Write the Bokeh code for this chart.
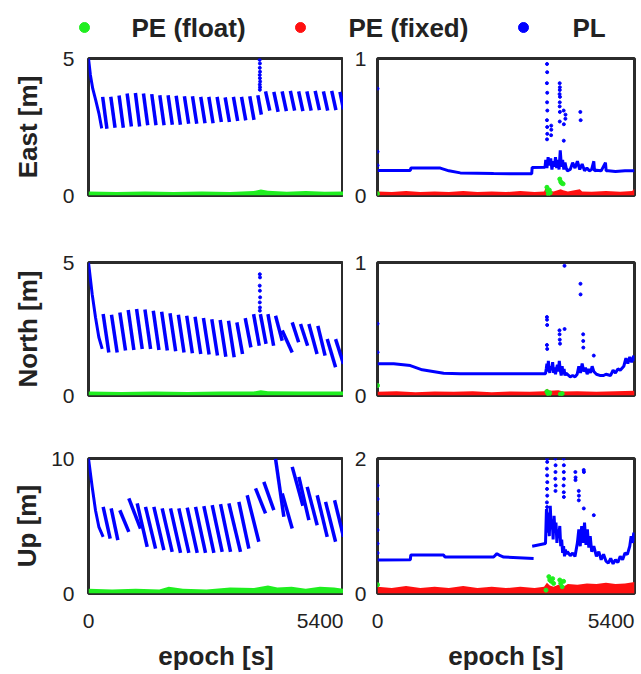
from bokeh.plotting import figure
from bokeh.models import Range1d, FixedTicker
from bokeh.layouts import column, row
from bokeh.embed import file_html
from bokeh.resources import INLINE
from bokeh.core.properties import value

# ---------------- data ----------------
X_MAX = 5400
x_ticks = [0, 5400]
x_tick_labels = ["0", "5400"]
x_title = "epoch [s]"
legend_labels = ["PE (float)", "PE (fixed)", "PL"]
row_titles = ["East [m]", "North [m]", "Up [m]"]
left_ymax = [5, 5, 10]
right_ymax = [1, 1, 2]

# East, float solution (left)
east_l_init_t = [0, 40, 90, 150, 220, 280]
east_l_init_v = [5.0, 4.4, 3.9, 3.5, 3.0, 2.45]
east_l_t0 = [300, 472, 647, 818, 993, 1164, 1339, 1510, 1685, 1856, 2031, 2202, 2377, 2548, 2723,
             2894, 3069, 3240, 3415, 3586, 3749, 3925, 4100, 4275, 4450, 4625, 4800, 4975, 5150, 5325]
east_l_v0 = [3.60, 3.60, 3.65, 3.72, 3.74, 3.72, 3.70, 3.66, 3.66, 3.64, 3.62, 3.62, 3.60, 3.60, 3.60,
             3.58, 3.60, 3.60, 3.62, 3.66, 3.80, 3.78, 3.80, 3.82, 3.80, 3.80, 3.82, 3.80, 3.82, 3.78]
east_l_t1 = [390, 562, 737, 908, 1083, 1254, 1429, 1600, 1775, 1946, 2121, 2292, 2467, 2638, 2813,
             2984, 3159, 3330, 3505, 3660, 3839, 4015, 4190, 4365, 4540, 4715, 4890, 5065, 5240, 5400]
east_l_v1 = [2.44, 2.47, 2.47, 2.52, 2.52, 2.56, 2.56, 2.56, 2.58, 2.58, 2.62, 2.62, 2.64, 2.64, 2.68,
             2.68, 2.72, 2.74, 2.76, 2.95, 3.10, 3.05, 3.08, 3.10, 3.08, 3.10, 3.12, 3.10, 3.12, 3.14]
east_l_spike_t = [3624, 3630, 3627, 3632, 3626, 3630, 3634, 3628, 3632, 3629]
east_l_spike_v = [4.95, 4.82, 4.66, 4.52, 4.40, 4.28, 4.16, 4.05, 3.95, 3.86]
east_l_float_t = [0, 600, 1200, 1800, 2400, 3000, 3500, 3650, 3800, 4200, 4600, 5000, 5400]
east_l_float_v = [0.15, 0.13, 0.15, 0.13, 0.15, 0.13, 0.16, 0.22, 0.17, 0.14, 0.16, 0.14, 0.15]

# East, fixed solution (right)
east_r_pl_t = [0, 690, 700, 1320, 1500, 1740, 2440, 3240, 3250, 3520,
               3535, 3560, 3585, 3610, 3640, 3665, 3690, 3715, 3740, 3765,
               3790, 3815, 3840, 3865, 3890, 3915, 3940, 3965, 3990, 4050,
               4100, 4150, 4200, 4250, 4300, 4350, 4400, 4450, 4500, 4545,
               4560, 4600, 4700, 4790, 4805, 4850, 5000, 5200, 5400]
east_r_pl_v = [0.183, 0.183, 0.200, 0.200, 0.180, 0.165, 0.160, 0.158, 0.205, 0.207,
               0.260, 0.200, 0.280, 0.220, 0.270, 0.190, 0.250, 0.210, 0.280, 0.200,
               0.260, 0.190, 0.330, 0.210, 0.260, 0.190, 0.240, 0.200, 0.180, 0.190,
               0.240, 0.200, 0.250, 0.190, 0.230, 0.180, 0.200, 0.180, 0.190, 0.250,
               0.180, 0.185, 0.180, 0.240, 0.180, 0.180, 0.175, 0.180, 0.180]
east_r_out_t = [0, 0, 0, 3562, 3565, 3560, 3566, 3563, 3568, 3561, 3565, 3567, 3562, 3650, 3652, 3648,
                3828, 3832, 3830, 3826, 3834, 3830, 3828, 3832, 3830, 3912, 3916, 3914, 3950, 3948, 4262, 4268]
east_r_out_v = [0.78, 0.32, 0.22, 0.96, 0.90, 0.82, 0.75, 0.68, 0.62, 0.55, 0.50, 0.45, 0.41, 0.51, 0.48, 0.44,
                0.82, 0.79, 0.77, 0.74, 0.72, 0.68, 0.65, 0.61, 0.54, 0.62, 0.52, 0.40, 0.59, 0.56, 0.61, 0.55]
east_r_fixed_t = [0, 300, 600, 900, 1200, 1500, 1800, 2100, 2400, 2700, 3000, 3300, 3500, 3560, 3600,
                  3700, 3850, 3900, 4000, 4250, 4300, 4500, 4800, 5100, 5350, 5400]
east_r_fixed_v = [0.030, 0.025, 0.032, 0.026, 0.030, 0.025, 0.032, 0.026, 0.030, 0.025, 0.032, 0.026, 0.030,
                  0.075, 0.035, 0.030, 0.045, 0.038, 0.030, 0.045, 0.030, 0.028, 0.032, 0.028, 0.032, 0.050]
east_r_float_t = [0, 3560, 3575, 3590, 3610, 3630, 3830, 3850, 3870, 3900]
east_r_float_v = [0.013, 0.060, 0.035, 0.010, 0.040, 0.020, 0.120, 0.100, 0.090, 0.085]

# North, float solution (left)
north_l_init_t = [0, 78, 148, 219, 290]
north_l_init_v = [5.0, 3.81, 2.94, 2.19, 1.75]
north_l_t0 = [310, 487, 664, 841, 1018, 1195, 1372, 1549, 1726, 1903, 2080, 2257, 2434, 2611, 2788,
              2965, 3142, 3319, 3496, 3640, 3800, 3961, 4102, 4314, 4490, 4667, 4857, 5055, 5232]
north_l_v0 = [3.06, 3.04, 3.12, 3.21, 3.25, 3.23, 3.19, 3.15, 3.09, 3.04, 3.00, 2.96, 2.91, 2.87, 2.84,
              2.81, 2.75, 2.91, 3.06, 3.06, 3.06, 3.00, 2.44, 2.75, 2.69, 2.69, 2.62, 2.12, 2.12]
north_l_t1 = [430, 607, 784, 961, 1138, 1315, 1492, 1669, 1846, 2023, 2200, 2377, 2554, 2731, 2908,
              3085, 3262, 3439, 3616, 3760, 3920, 4102, 4314, 4450, 4640, 4840, 5010, 5232, 5400]
north_l_v1 = [1.62, 1.62, 1.69, 1.71, 1.75, 1.75, 1.71, 1.69, 1.66, 1.62, 1.59, 1.56, 1.54, 1.50, 1.46,
              1.44, 1.56, 1.81, 1.87, 1.94, 1.87, 2.06, 1.62, 2.00, 1.87, 1.56, 1.50, 1.06, 1.19]
north_l_spike_t = [3628, 3632, 3626, 3630, 3634, 3628, 3631, 3629]
north_l_spike_v = [4.56, 4.44, 4.13, 3.94, 3.69, 3.50, 3.31, 3.19]
north_l_float_t = [0, 700, 1400, 2100, 2800, 3500, 3650, 3800, 4500, 5400]
north_l_float_v = [0.15, 0.13, 0.15, 0.13, 0.15, 0.15, 0.20, 0.16, 0.15, 0.15]

# North, fixed solution (right)
north_r_pl_t = [0, 340, 690, 940, 1390, 1740, 3530, 3545, 3560, 3575,
                3590, 3605, 3620, 3640, 3660, 3680, 3700, 3720, 3740, 3760,
                3780, 3800, 3820, 3840, 3860, 3880, 3900, 3920, 3940, 3960,
                3985, 4050, 4100, 4150, 4195, 4230, 4265, 4300, 4335, 4370,
                4405, 4440, 4475, 4510, 4545, 4600, 4685, 4750, 4800, 4895,
                4950, 5000, 5050, 5100, 5175, 5220, 5260, 5300, 5340, 5385, 5400]
north_r_pl_v = [0.238, 0.238, 0.225, 0.193, 0.168, 0.163, 0.163, 0.200, 0.240, 0.180,
                0.260, 0.200, 0.170, 0.220, 0.190, 0.250, 0.170, 0.210, 0.160, 0.200,
                0.230, 0.180, 0.260, 0.190, 0.150, 0.220, 0.160, 0.200, 0.150, 0.170,
                0.160, 0.140, 0.150, 0.140, 0.160, 0.220, 0.170, 0.240, 0.180, 0.210,
                0.160, 0.200, 0.170, 0.220, 0.180, 0.160, 0.150, 0.150, 0.160, 0.150,
                0.190, 0.170, 0.200, 0.190, 0.220, 0.280, 0.240, 0.290, 0.250, 0.300, 0.260]
north_r_out_t = [0, 0, 3560, 3562, 3565, 3560, 3566, 3824, 3826, 3830, 3835, 3929, 3931,
                 4265, 4267, 4321, 4323, 4325, 4545]
north_r_out_v = [0.54, 0.325, 0.59, 0.57, 0.53, 0.38, 0.35, 0.49, 0.46, 0.42, 0.39, 0.975, 0.50,
                 0.84, 0.76, 0.46, 0.41, 0.36, 0.30]
north_r_fixed_t = [0, 400, 800, 1200, 1600, 2000, 2400, 2800, 3200, 3500, 3565, 3620, 3800, 3900,
                   4200, 4600, 5000, 5400]
north_r_fixed_v = [0.028, 0.032, 0.025, 0.030, 0.028, 0.032, 0.025, 0.030, 0.028, 0.032, 0.050, 0.035,
                   0.040, 0.030, 0.032, 0.028, 0.032, 0.035]
north_r_float_t = [0, 3560, 3580, 3600, 3620, 3840, 3860, 3880]
north_r_float_v = [0.075, 0.030, 0.015, 0.005, 0.020, 0.010, 0.005, 0.015]

# Up, float solution (left)
up_l_init_t = [0, 78, 148, 219, 310]
up_l_init_v = [10.0, 7.9, 6.17, 4.94, 4.2]
up_l_t0 = [310, 480, 663, 854, 1031, 1207, 1384, 1560, 1737, 1913, 2090, 2267, 2443, 2620, 2796,
           2973, 3184, 3360, 3537, 3713, 3961, 4102, 4314, 4455, 4631, 4843, 5020, 5211]
up_l_v0 = [6.42, 6.30, 6.17, 7.04, 6.67, 6.42, 6.42, 6.30, 6.30, 6.30, 6.37, 6.42, 6.47, 6.54, 6.62,
           6.67, 6.79, 7.28, 7.78, 8.27, 9.99, 7.41, 9.38, 8.64, 7.90, 7.28, 6.79, 6.91]
up_l_t1 = [459, 621, 854, 1101, 1243, 1420, 1596, 1772, 1949, 2125, 2302, 2478, 2655, 2831, 3008,
           3219, 3396, 3607, 3749, 3925, 4137, 4314, 4540, 4667, 4843, 5055, 5232, 5400]
up_l_v1 = [4.07, 3.95, 4.57, 4.81, 3.46, 3.33, 3.21, 3.09, 3.01, 3.01, 3.01, 3.01, 3.01, 3.09, 3.09,
           3.09, 3.33, 3.83, 5.93, 6.17, 5.68, 4.81, 6.50, 5.43, 5.06, 4.20, 3.83, 4.20]
up_l_float_t = [0, 500, 1000, 1500, 1700, 2000, 2500, 3000, 3500, 3800, 4000, 4300, 4600, 4900, 5200, 5400]
up_l_float_v = [0.35, 0.30, 0.35, 0.30, 0.50, 0.35, 0.30, 0.45, 0.40, 0.60, 0.45, 0.50, 0.35, 0.50, 0.45, 0.35]

# Up, fixed solution (right)
up_r_pl_a_t = [0, 40, 690, 700, 1390, 1420, 2440, 2510, 2580, 2650, 3280]
up_r_pl_a_v = [0.50, 0.497, 0.50, 0.57, 0.57, 0.54, 0.54, 0.59, 0.56, 0.54, 0.52]
up_r_pl_b_t = [3250, 3530, 3550, 3570, 3590, 3610, 3630, 3650, 3670, 3690, 3710, 3730, 3750, 3770,
               3790, 3810, 3830, 3850, 3870, 3890, 3910, 3930, 3950, 3970, 3990,
               4050, 4100, 4150, 4200, 4230, 4260, 4290, 4320, 4350, 4380, 4410, 4440, 4470, 4500, 4545,
               4600, 4650, 4700, 4750, 4800, 4850, 4900, 4950, 5000, 5050, 5100, 5150, 5200, 5250,
               5300, 5330, 5360, 5385, 5400]
up_r_pl_b_v = [0.70, 0.74, 1.25, 0.90, 1.20, 0.85, 1.30, 0.95, 1.10, 0.80, 1.15, 0.90, 1.05, 0.75,
               0.95, 0.85, 1.00, 0.70, 0.80, 0.60, 0.70, 0.55, 0.65, 0.58, 0.62,
               0.56, 0.60, 0.55, 0.75, 0.95, 0.70, 1.00, 0.75, 1.05, 0.72, 0.95, 0.68, 0.85, 0.62, 0.70,
               0.55, 0.62, 0.50, 0.58, 0.48, 0.45, 0.52, 0.44, 0.50, 0.46, 0.55, 0.50, 0.60, 0.58,
               0.70, 0.85, 0.75, 0.90, 0.78]
up_r_out_t = [0, 0, 0, 0, 0, 0, 3562, 3566, 3560, 3564, 3568, 3562, 3566, 3560, 3564,
              3738, 3742, 3740, 3736, 3744, 3740, 3912, 3916, 3914, 3918, 3910, 3914, 3916,
              4158, 4162, 4160, 4228, 4232, 4230, 4333, 4337, 4335, 4545]
up_r_out_v = [1.60, 1.40, 1.18, 0.94, 0.74, 0.60, 2.0, 1.95, 1.85, 1.75, 1.65, 1.55, 1.45, 1.35, 1.28,
              2.0, 1.9, 1.8, 1.7, 1.6, 1.52, 2.0, 1.9, 1.8, 1.7, 1.6, 1.5, 1.43,
              1.80, 1.72, 1.68, 1.52, 1.45, 1.38, 1.83, 1.80, 1.26, 1.16]
up_r_fixed_t = [0, 300, 600, 900, 1200, 1500, 1800, 2100, 2400, 2700, 3000, 3300, 3500, 3560, 3620,
                3700, 3800, 3900, 4000, 4200, 4400, 4600, 4800, 5000, 5200, 5400]
up_r_fixed_v = [0.10, 0.08, 0.11, 0.08, 0.10, 0.08, 0.11, 0.08, 0.10, 0.08, 0.10, 0.08, 0.10, 0.16, 0.12,
                0.10, 0.13, 0.10, 0.14, 0.13, 0.15, 0.14, 0.16, 0.14, 0.15, 0.17]
up_r_float_t = [0, 3540, 3600, 3620, 3650, 3680, 3700, 3830, 3850, 3880, 3910]
up_r_float_v = [0.13, 0.05, 0.25, 0.20, 0.18, 0.22, 0.15, 0.20, 0.15, 0.10, 0.18]

# ---------------- style ----------------
FONT = "Liberation Sans"
TEXT = "#222222"
GREEN = "#1fee1f"
RED = "#ff1010"
BLUE = "#0000ff"
colors = [GREEN, RED, BLUE]
TICK_SIZE = "21px"
TITLE_SIZE = "26px"

LEFT_W, RIGHT_W = 343, 297
LEFT_FRAME_L, LEFT_FRAME_W = 88, 255
RIGHT_FRAME_L, RIGHT_FRAME_W = 34, 257
STRIP_H = 66


def make_panel(width, height, mbl, mbr, mbt, mbb, ymax, ylabel=None, title_standoff=10,
               label_standoff=12):
    p = figure(width=width, height=height, x_range=Range1d(0, X_MAX), y_range=Range1d(0, ymax),
               output_backend="svg", toolbar_location=None,
               min_border_left=mbl, min_border_right=mbr, min_border_top=mbt, min_border_bottom=mbb)
    p.grid.visible = False
    p.outline_line_color = "#2b2b2b"
    p.outline_line_width = 3
    ya = p.yaxis[0]
    ya.ticker = FixedTicker(ticks=[0, ymax])
    ya.axis_line_color = None
    ya.major_tick_line_color = None
    ya.minor_tick_line_color = None
    ya.major_tick_out = 0
    ya.major_tick_in = 0
    ya.major_label_standoff = label_standoff
    ya.major_label_text_font = FONT
    ya.major_label_text_font_size = TICK_SIZE
    ya.major_label_text_color = TEXT
    if ylabel:
        ya.axis_label = ylabel
        ya.axis_label_text_font = FONT
        ya.axis_label_text_font_size = TITLE_SIZE
        ya.axis_label_text_font_style = "bold"
        ya.axis_label_text_color = TEXT
        ya.axis_label_standoff = title_standoff
    p.xaxis.visible = False
    return p


def make_strip(width, frame_left, frame_w):
    # x tick labels and axis title, in the same time units as the panel above it
    per_px = X_MAX / frame_w
    xr = Range1d(-frame_left * per_px, X_MAX + (width - frame_left - frame_w) * per_px)
    s = figure(width=width, height=STRIP_H, x_range=xr, y_range=Range1d(0, STRIP_H),
               output_backend="svg", toolbar_location=None, min_border=0)
    s.axis.visible = False
    s.grid.visible = False
    s.outline_line_color = None
    common = dict(text_font=value(FONT), text_color=TEXT, text_baseline="middle")
    s.text(x=[x_ticks[0]], y=[53], text=[x_tick_labels[0]], text_align="center",
           text_font_size=TICK_SIZE, **common)
    s.text(x=[x_ticks[1]], y=[53], text=[x_tick_labels[1]], text_align="right",
           text_font_size=TICK_SIZE, **common)
    s.text(x=[X_MAX / 2], y=[18], text=[x_title], text_align="center",
           text_font_size=TITLE_SIZE, text_font_style="bold", **common)
    return s


def draw_left(p, init_t, init_v, t0, v0, t1, v1, float_t, float_v, spike_t=None, spike_v=None):
    p.varea(x=float_t, y1=0, y2=float_v, fill_color=GREEN)
    p.line(init_t, init_v, line_color=BLUE, line_width=3)
    p.segment(x0=t0, y0=v0, x1=t1, y1=v1, line_color=BLUE, line_width=3.5)
    if spike_t:
        p.scatter(spike_t, spike_v, size=3, color=BLUE)


def draw_right(p, pl_lines, out_t, out_v, fixed_t, fixed_v, float_t, float_v):
    for lt, lv in pl_lines:
        p.line(lt, lv, line_color=BLUE, line_width=3)
    p.scatter(out_t, out_v, size=3, color=BLUE)
    p.varea(x=fixed_t, y1=0, y2=fixed_v, fill_color=RED)
    p.scatter(float_t, float_v, size=4, color=GREEN)


# ---------------- legend ----------------
LEG_H = 43
leg = figure(width=LEFT_W + RIGHT_W, height=LEG_H, x_range=Range1d(0, LEFT_W + RIGHT_W),
             y_range=Range1d(0, LEG_H), output_backend="svg", toolbar_location=None,
             min_border=0)
leg.axis.visible = False
leg.grid.visible = False
leg.outline_line_color = None
leg_dot_x = [84, 300, 523]
leg_text_x = [131, 348, 572]
leg_y = [16, 16, 16]
leg.scatter(leg_dot_x, leg_y, size=10, color=colors)
leg.text(x=leg_text_x, y=leg_y, text=legend_labels, text_font=value(FONT),
         text_font_size=TITLE_SIZE, text_font_style="bold", text_color=TEXT,
         text_baseline="middle", text_align="left")

# ---------------- panels ----------------
e_l = make_panel(LEFT_W, 186, LEFT_FRAME_L, 0, 15, 34, left_ymax[0], row_titles[0], 17, 14)
draw_left(e_l, east_l_init_t, east_l_init_v, east_l_t0, east_l_v0, east_l_t1, east_l_v1,
          east_l_float_t, east_l_float_v, east_l_spike_t, east_l_spike_v)
e_r = make_panel(RIGHT_W, 186, RIGHT_FRAME_L, 6, 15, 34, right_ymax[0], label_standoff=11)
draw_right(e_r, [(east_r_pl_t, east_r_pl_v)], east_r_out_t, east_r_out_v,
           east_r_fixed_t, east_r_fixed_v, east_r_float_t, east_r_float_v)

n_l = make_panel(LEFT_W, 196, LEFT_FRAME_L, 0, 33, 30, left_ymax[1], row_titles[1], 17, 14)
draw_left(n_l, north_l_init_t, north_l_init_v, north_l_t0, north_l_v0, north_l_t1, north_l_v1,
          north_l_float_t, north_l_float_v, north_l_spike_t, north_l_spike_v)
n_r = make_panel(RIGHT_W, 196, RIGHT_FRAME_L, 6, 33, 30, right_ymax[1], label_standoff=11)
draw_right(n_r, [(north_r_pl_t, north_r_pl_v)], north_r_out_t, north_r_out_v,
           north_r_fixed_t, north_r_fixed_v, north_r_float_t, north_r_float_v)

u_l = make_panel(LEFT_W, 182, LEFT_FRAME_L, 0, 33, 14, left_ymax[2], row_titles[2], 6, 14)
draw_left(u_l, up_l_init_t, up_l_init_v, up_l_t0, up_l_v0, up_l_t1, up_l_v1,
          up_l_float_t, up_l_float_v)
u_r = make_panel(RIGHT_W, 182, RIGHT_FRAME_L, 6, 33, 14, right_ymax[2], label_standoff=11)
draw_right(u_r, [(up_r_pl_a_t, up_r_pl_a_v), (up_r_pl_b_t, up_r_pl_b_v)], up_r_out_t, up_r_out_v,
           up_r_fixed_t, up_r_fixed_v, up_r_float_t, up_r_float_v)

strip_l = make_strip(LEFT_W, LEFT_FRAME_L, LEFT_FRAME_W)
strip_r = make_strip(RIGHT_W, RIGHT_FRAME_L, RIGHT_FRAME_W)

layout = column(leg, row(e_l, e_r), row(n_l, n_r), row(u_l, u_r), row(strip_l, strip_r))

open("out.html", "w").write(file_html(layout, INLINE))
